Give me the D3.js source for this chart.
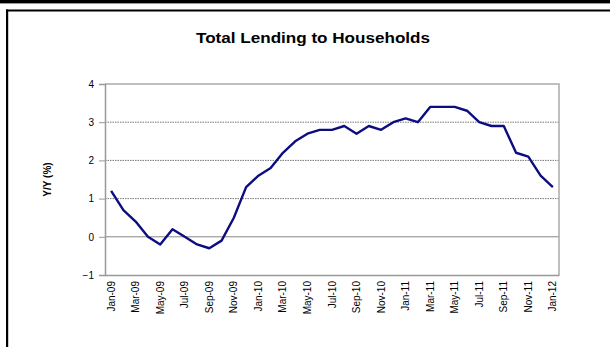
<!DOCTYPE html>
<html>
<head>
<meta charset="utf-8">
<script src="https://cdn.jsdelivr.net/npm/d3@7"></script>
<style>
  html, body { margin: 0; padding: 0; background: #fff; }
  svg { display: block; }
  text { font-family: "Liberation Sans", Arial, sans-serif; fill: #000; }
</style>
</head>
<body>
<svg id="chart" width="610" height="347"></svg>
<script>
// Monthly year-on-year growth of total lending to households (%)
const months = [
  "Jan-09","Feb-09","Mar-09","Apr-09","May-09","Jun-09","Jul-09","Aug-09","Sep-09","Oct-09","Nov-09","Dec-09",
  "Jan-10","Feb-10","Mar-10","Apr-10","May-10","Jun-10","Jul-10","Aug-10","Sep-10","Oct-10","Nov-10","Dec-10",
  "Jan-11","Feb-11","Mar-11","Apr-11","May-11","Jun-11","Jul-11","Aug-11","Sep-11","Oct-11","Nov-11","Dec-11",
  "Jan-12"
];
const yoy = [
  1.2, 0.7, 0.4, 0.0, -0.2, 0.2, 0.0, -0.2, -0.3, -0.1, 0.5, 1.3,
  1.6, 1.8, 2.2, 2.5, 2.7, 2.8, 2.8, 2.9, 2.7, 2.9, 2.8, 3.0,
  3.1, 3.0, 3.4, 3.4, 3.4, 3.3, 3.0, 2.9, 2.9, 2.2, 2.1, 1.6,
  1.3
];
const yTicks = [-1, 0, 1, 2, 3, 4];
const title = "Total Lending to Households";
const yTitle = "Y/Y (%)";

const svg = d3.select("#chart");
const W = 610, H = 347;

// Page frame: dark strip along the top and a bordered panel
svg.append("rect").attr("x", 0).attr("y", 0).attr("width", W).attr("height", 3).attr("fill", "#000");
svg.append("rect").attr("x", 0).attr("y", 3).attr("width", W).attr("height", 1).attr("fill", "#999");
svg.append("rect").attr("x", 6).attr("y", 9.5).attr("width", W).attr("height", 2).attr("fill", "#000");
svg.append("rect").attr("x", 6).attr("y", 9.5).attr("width", 2.2).attr("height", H).attr("fill", "#000");

const plot = { left: 105, right: 559, top: 84, bottom: 275 };

const x = d3.scaleBand().domain(months).range([plot.left, plot.right]).paddingInner(0).paddingOuter(0);
const xc = d => x(d) + x.bandwidth() / 2;
const y = d3.scaleLinear().domain([-1, 4]).range([plot.bottom, plot.top]);

// Title (wide bold face)
svg.append("text")
  .attr("x", 313).attr("y", 43)
  .attr("text-anchor", "middle")
  .attr("font-size", "15px").attr("font-weight", "bold")
  .attr("textLength", 234).attr("lengthAdjust", "spacingAndGlyphs")
  .text(title);

// Gridlines
svg.append("g").selectAll("line")
  .data(yTicks.filter(t => t > -1 && t < 4))
  .join("line")
  .attr("x1", plot.left).attr("x2", plot.right)
  .attr("y1", d => y(d)).attr("y2", d => y(d))
  .attr("stroke", d => d === 0 ? "#888" : "#777")
  .attr("stroke-width", 1)
  .attr("stroke-dasharray", d => d === 0 ? null : "1.5,1");

// Plot border (top and right)
svg.append("path")
  .attr("d", `M${plot.left},${plot.top}H${plot.right}V${plot.bottom}`)
  .attr("fill", "none").attr("stroke", "#aaa").attr("stroke-width", 1.5);

// Y axis
const yAxis = svg.append("g")
  .attr("transform", `translate(${plot.left},0)`)
  .call(d3.axisLeft(y).tickValues(yTicks).tickSize(6).tickPadding(5).tickFormat(d3.format("d")));
yAxis.select(".domain").attr("stroke", "#999").attr("stroke-width", 1.5);
yAxis.selectAll(".tick line").attr("stroke", "#999");
yAxis.selectAll(".tick text").attr("font-size", "10px").attr("font-family", "Liberation Sans, Arial, sans-serif").attr("fill", "#000");

// X axis, labelled every second month
const xAxis = svg.append("g")
  .attr("transform", `translate(0,${plot.bottom})`)
  .call(d3.axisBottom(x).tickValues(months.filter((m, i) => i % 2 === 0)).tickSize(0).tickPadding(0));
xAxis.select(".domain").attr("stroke", "#999").attr("stroke-width", 1.5);
xAxis.selectAll(".tick text")
  .attr("font-size", "10px").attr("font-family", "Liberation Sans, Arial, sans-serif").attr("fill", "#000")
  .attr("transform", "rotate(-90)")
  .attr("text-anchor", "end")
  .attr("dy", "0.35em")
  .attr("x", -6).attr("y", 0);

// Y axis title
svg.append("text")
  .attr("transform", `translate(51,${(plot.top + plot.bottom) / 2}) rotate(-90)`)
  .attr("text-anchor", "middle")
  .attr("font-size", "10px").attr("font-weight", "bold")
  .text(yTitle);

// Series line
const line = d3.line().x((d, i) => xc(months[i])).y(d => y(d));
svg.append("path")
  .datum(yoy)
  .attr("d", line)
  .attr("fill", "none")
  .attr("stroke", "#0d0d80")
  .attr("stroke-width", 2.4)
  .attr("stroke-linejoin", "round");
</script>
</body>
</html>
